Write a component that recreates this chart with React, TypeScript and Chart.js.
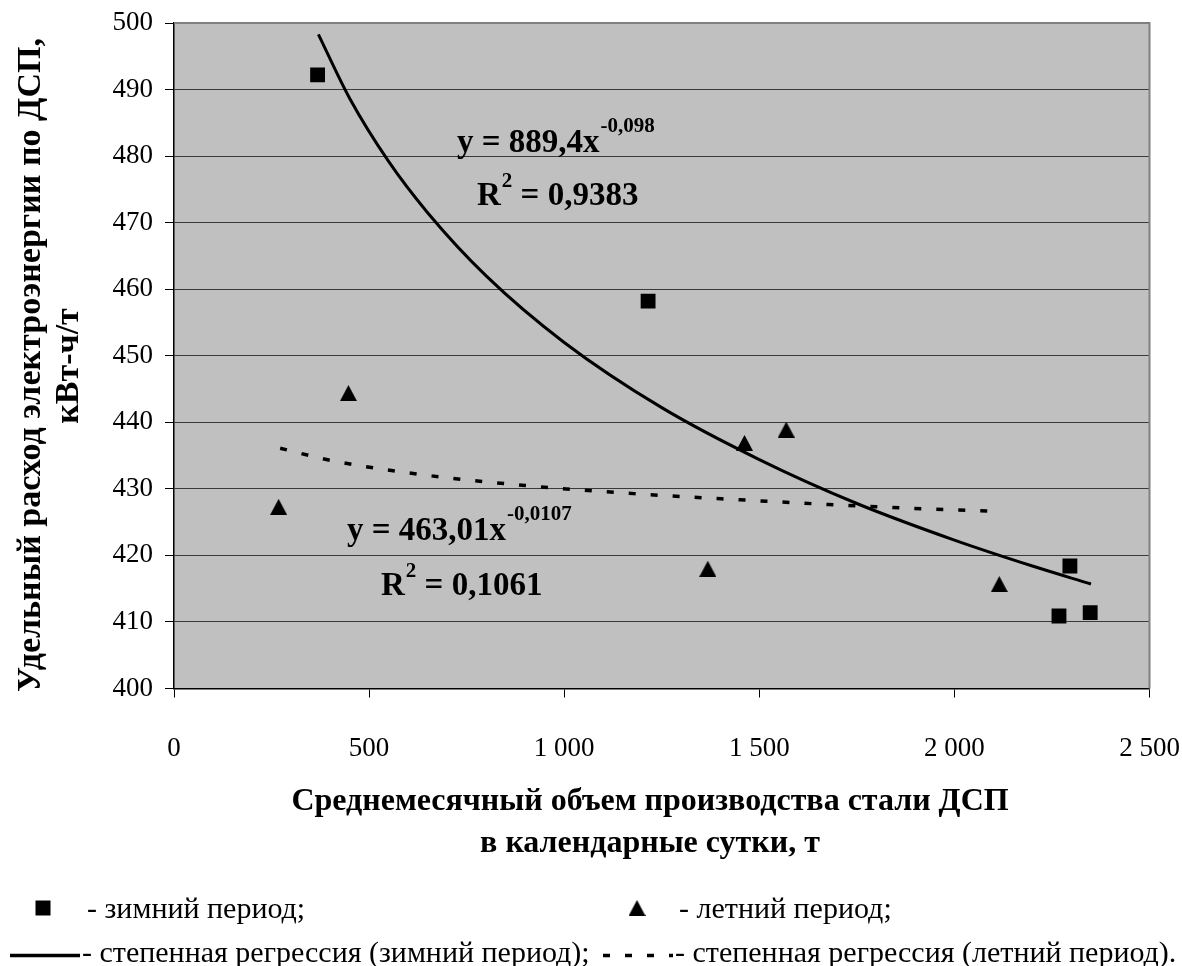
import React, { useEffect, useRef } from "react";
import { Chart, registerables } from "chart.js";

Chart.register(...registerables);

// ---- data ----
const WINTER_X = [368, 1215, 2268, 2296, 2348];
const WINTER_Y = [492.2, 458.2, 410.9, 418.4, 411.4];

const SUMMER_X = [268, 447, 1368, 1462, 1569, 2115];
const SUMMER_Y = [427.3, 444.4, 418.0, 436.9, 438.9, 415.7];

// trend curves
const WINTER_TREND_X = [370, 450, 550, 650, 800, 1000, 1250, 1500, 1750, 2000, 2200, 2350];
const WINTER_TREND_Y = [498.3, 488.7, 479.2, 471.5, 462.0, 452.0, 442.2, 434.4, 427.8, 422.3, 418.4, 415.7];

const SUMMER_TREND_X = [272, 400, 600, 900, 1200, 1500, 1800, 2115];
const SUMMER_TREND_Y = [436.1, 434.3, 432.4, 430.5, 429.2, 428.2, 427.3, 426.6];

const X_TICK_VALUES = [0, 500, 1000, 1500, 2000, 2500];
const X_TICK_LABELS = ["0", "500", "1 000", "1 500", "2 000", "2 500"];

const Y_TITLE = ["Удельный расход электроэнергии по ДСП,", "кВт-ч/т"];
const X_TITLE = ["Среднемесячный объем производства стали ДСП", "в календарные сутки, т"];

const EQ_WINTER = { main: "y = 889,4x", exp: "-0,098", r2: " = 0,9383" };
const EQ_SUMMER = { main: "y = 463,01x", exp: "-0,0107", r2: " = 0,1061" };

const LEGEND_TEXT = [
  "- зимний период;",
  "- летний период;",
  "- степенная регрессия (зимний период);",
  "- степенная регрессия (летний период).",
];

const FONT = '"Liberation Serif", "Times New Roman", serif';

function zip(xs: number[], ys: number[]) {
  return xs.map((x, i) => ({ x, y: ys[i] }));
}

function makeTriangle(w: number, h: number): HTMLCanvasElement {
  const c = document.createElement("canvas");
  c.width = w;
  c.height = h;
  const g = c.getContext("2d")!;
  g.fillStyle = "#000";
  g.beginPath();
  g.moveTo(w / 2, 0);
  g.lineTo(w, h);
  g.lineTo(0, h);
  g.closePath();
  g.fill();
  return c;
}

function zeroPad(s: any) {
  s.paddingLeft = 0;
  s.paddingRight = 0;
  s.paddingTop = 0;
  s.paddingBottom = 0;
}

export default function App() {
  const ref = useRef<HTMLCanvasElement | null>(null);

  useEffect(() => {
    const canvas = ref.current;
    if (!canvas) return;
    const tri = makeTriangle(17, 16);

    const bgPlugin = {
      id: "plotBg",
      beforeDraw(chart: any) {
        const { ctx, chartArea: a } = chart;
        ctx.save();
        ctx.fillStyle = "#C0C0C0";
        ctx.fillRect(a.left, a.top, a.right - a.left, a.bottom - a.top);
        ctx.restore();
      },
    };

    const drawEq = (ctx: CanvasRenderingContext2D, eq: any, x: number, y: number, rx: number, ry: number) => {
      ctx.fillStyle = "#000";
      ctx.textAlign = "left";
      ctx.textBaseline = "alphabetic";
      ctx.font = `bold 33px ${FONT}`;
      ctx.fillText(eq.main, x, y);
      const w = ctx.measureText(eq.main).width;
      ctx.font = `bold 21px ${FONT}`;
      ctx.fillText(eq.exp, x + w + 1, y - 20);
      ctx.font = `bold 33px ${FONT}`;
      ctx.fillText("R", rx, ry);
      const wr = ctx.measureText("R").width;
      ctx.font = `bold 21px ${FONT}`;
      ctx.fillText("2", rx + wr + 1, ry - 18);
      const w2 = ctx.measureText("2").width;
      ctx.font = `bold 33px ${FONT}`;
      ctx.fillText(eq.r2, rx + wr + w2 + 1, ry);
    };

    const overlayPlugin = {
      id: "overlay",
      afterDraw(chart: any) {
        const { ctx, chartArea: a } = chart;
        ctx.save();
        // plot border (top/right)
        ctx.strokeStyle = "#808080";
        ctx.lineWidth = 2;
        ctx.beginPath();
        ctx.moveTo(a.left, a.top);
        ctx.lineTo(a.right, a.top);
        ctx.lineTo(a.right, a.bottom);
        ctx.stroke();

        // equations
        drawEq(ctx, EQ_WINTER, 457, 152, 477, 205);
        drawEq(ctx, EQ_SUMMER, 347, 540, 381, 595);

        // y title
        ctx.fillStyle = "#000";
        ctx.font = `bold 34px ${FONT}`;
        ctx.textAlign = "center";
        ctx.textBaseline = "alphabetic";
        ctx.save();
        ctx.translate(40, 365);
        ctx.rotate(-Math.PI / 2);
        ctx.fillText(Y_TITLE[0], 0, 0);
        ctx.restore();
        ctx.save();
        ctx.translate(78, 366);
        ctx.rotate(-Math.PI / 2);
        ctx.fillText(Y_TITLE[1], 0, 0);
        ctx.restore();

        // x title
        ctx.font = `bold 32px ${FONT}`;
        ctx.fillText(X_TITLE[0], 650, 810);
        ctx.fillText(X_TITLE[1], 650, 852);

        // legend
        ctx.font = `30px ${FONT}`;
        ctx.textAlign = "left";
        ctx.fillStyle = "#000";
        ctx.fillRect(43 - 7.5, 908 - 7.5, 15, 15);
        ctx.fillText(LEGEND_TEXT[0], 87, 918);
        ctx.drawImage(tri, 637 - 8.5, 908 - 8);
        ctx.fillText(LEGEND_TEXT[1], 679, 918);

        ctx.strokeStyle = "#000";
        ctx.lineWidth = 3.5;
        ctx.beginPath();
        ctx.moveTo(10, 955.5);
        ctx.lineTo(80, 955.5);
        ctx.stroke();
        ctx.fillText(LEGEND_TEXT[2], 82, 962);

        ctx.setLineDash([7, 15]);
        ctx.beginPath();
        ctx.moveTo(603, 955.5);
        ctx.lineTo(673, 955.5);
        ctx.stroke();
        ctx.setLineDash([]);
        ctx.fillText(LEGEND_TEXT[3], 675, 962);
        ctx.restore();
      },
    };

    const chart = new Chart(canvas, {
      type: "scatter",
      data: {
        datasets: [
          {
            label: "зимний период",
            data: zip(WINTER_X, WINTER_Y),
            pointStyle: "rect",
            pointRadius: 10.5,
            backgroundColor: "#000",
            borderWidth: 0,
            order: 1,
          },
          {
            label: "летний период",
            data: zip(SUMMER_X, SUMMER_Y),
            pointStyle: tri as any,
            pointRadius: 9,
            backgroundColor: "#000",
            borderWidth: 0,
            order: 1,
          },
          {
            label: "степенная регрессия (зимний период)",
            data: zip(WINTER_TREND_X, WINTER_TREND_Y),
            showLine: true,
            pointRadius: 0,
            borderColor: "#000",
            borderWidth: 3,
            cubicInterpolationMode: "monotone",
            order: 2,
          } as any,
          {
            label: "степенная регрессия (летний период)",
            data: zip(SUMMER_TREND_X, SUMMER_TREND_Y),
            showLine: true,
            pointRadius: 0,
            borderColor: "#000",
            borderWidth: 3.5,
            borderDash: [7, 15],
            cubicInterpolationMode: "monotone",
            order: 2,
          } as any,
        ],
      },
      options: {
        animation: false,
        responsive: false,
        devicePixelRatio: 1,
        layout: { padding: { top: 23, right: 32.5, left: 0, bottom: 0 } },
        plugins: { legend: { display: false }, tooltip: { enabled: false } },
        scales: {
          x: {
            type: "linear",
            min: 0,
            max: 2500,
            afterFit: (s: any) => {
              s.height = 277.5;
              zeroPad(s);
            },
            afterBuildTicks: (s: any) => {
              s.ticks = X_TICK_VALUES.map((v) => ({ value: v }));
            },
            ticks: {
              stepSize: 500,
              autoSkip: false,
              maxRotation: 0,
              padding: 35,
              color: "#000",
              font: { family: FONT, size: 27 },
              callback: (v: any) => {
                const i = X_TICK_VALUES.indexOf(Number(v));
                return i >= 0 ? X_TICK_LABELS[i] : "";
              },
            },
            grid: { drawOnChartArea: false, drawTicks: true, tickLength: 9, tickColor: "#000" },
            border: { color: "#000", width: 1.5 },
          },
          y: {
            min: 400,
            max: 500,
            afterFit: (s: any) => {
              s.width = 174;
              zeroPad(s);
            },
            ticks: {
              stepSize: 10,
              padding: 12,
              color: "#000",
              font: { family: FONT, size: 27 },
              callback: (v: any) => String(v),
            },
            grid: { color: "#3a3a3a", lineWidth: 1, tickLength: 9, tickColor: "#000" },
            border: { color: "#000", width: 1.5 },
          },
        },
      } as any,
      plugins: [bgPlugin, overlayPlugin],
    });

    return () => chart.destroy();
  }, []);

  return (
    <div style={{ position: "absolute", left: 0, top: 0, width: 1182, height: 966, background: "#fff" }}>
      <canvas ref={ref} width={1182} height={966} style={{ display: "block" }} />
    </div>
  );
}
